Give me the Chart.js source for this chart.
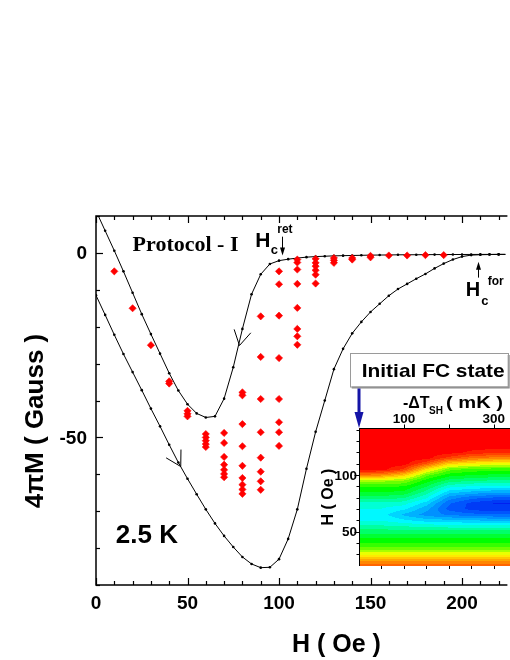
<!DOCTYPE html>
<html><head><meta charset="utf-8">
<script src="https://cdn.jsdelivr.net/npm/chart.js@4/dist/chart.umd.min.js"></script>
<style>
html,body{margin:0;padding:0;background:#fff;overflow:hidden;}
#wrap{position:relative;width:510px;height:660px;}
#main{position:absolute;left:0;top:0;width:510px;height:660px;}
#inset{position:absolute;left:300px;top:340px;width:210px;height:240px;}
</style></head><body>
<div id="wrap"><canvas id="main" width="510" height="660"></canvas><canvas id="inset" width="210" height="240"></canvas></div>
<script>
// ---------- main chart data ----------
const curveH = [0,5,10,15,20,25,30,35,40,45,50,55,60,65,70,75,80,85,90,95,100,105,110,115,120,125,130,135,140,145,150,155,160,165,170,175,180,185,190,195,200,205,210,215,220,225];
const retM = [11.4,6.0,0.6,-5.0,-10.8,-16.6,-22.0,-27.3,-32.6,-37.3,-41.0,-43.5,-44.6,-44.3,-39.5,-31.0,-20.6,-11.2,-5.8,-3.0,-2.1,-1.7,-1.4,-1.15,-1.0,-0.9,-0.8,-0.75,-0.7,-0.65,-0.6,-0.58,-0.55,-0.52,-0.5,-0.5,-0.48,-0.46,-0.45,-0.44,-0.43,-0.42,-0.41,-0.4,-0.4,-0.4];
const forM = [-11.5,-16.8,-22.2,-27.4,-32.3,-37.2,-42.2,-47.0,-52.0,-56.8,-61.2,-65.4,-69.5,-73.3,-76.7,-79.7,-82.4,-84.3,-85.3,-85.2,-83.0,-77.5,-69.5,-58.5,-48.5,-40.0,-31.5,-26.0,-21.8,-18.7,-16.0,-13.8,-11.6,-9.8,-8.4,-7.0,-5.7,-4.2,-2.9,-1.8,-1.0,-0.6,-0.5,-0.45,-0.4,-0.4];
const fcH = [10,20,30,40,40,50,50,50,
  60,60,60,60,60,
  70,70,70,70,70,70,70,
  80,80,80,80,80,80,80,80,80,
  90,90,90,90,90,90,90,90,
  100,100,100,100,100,100,100,100,
  110,110,110,110,110,110,110,110,
  120,120,120,120,120,120,
  130,130,130,140,140,150,150,160,170,180,190];
const fcM = [-5,-15,-25,-34.8,-35.4,-42.8,-43.6,-44.3,
  -49.1,-50.0,-50.9,-51.8,-52.6,
  -48.8,-51.5,-55.3,-57.4,-58.8,-59.9,-60.8,
  -37.8,-38.6,-46.4,-52.4,-57.7,-61.0,-62.8,-64.1,-65.3,
  -17.2,-28.2,-39.6,-48.6,-55.5,-59.3,-61.9,-64.2,
  -5.0,-8.5,-17.0,-28.5,-39.6,-45.9,-48.6,-52.3,
  -1.8,-2.6,-4.5,-8.4,-14.9,-20.6,-22.6,-24.9,
  -1.6,-2.7,-3.6,-4.7,-5.9,-8.3,
  -1.4,-2.0,-2.7,-1.4,-1.8,-0.8,-1.2,-0.7,-0.7,-0.6,-0.6];
const xTickLabels = [0,50,100,150,200];
const yTickLabels = [0,-50];

// ---------- inset data ----------
const insetDT = [0,50,100,150,200,250,300,350];
const insetH = [140,135,130,125,120,115,110,105,100,95,90,85,80,75,70,65,60,55,50,45,40,35,30,25,20];
const insetZ = [
 [1,1,1,1,1,1,1,1],
 [1,1,1,1,1,1,1,1],
 [1,1,1,1,1,1,1,1],
 [1,1,1,1,1,1,1,1],
 [1,1,1,1,1,0.97,0.95,0.95],
 [1,1,1,1,0.92,0.86,0.84,0.84],
 [1,1,1,0.9,0.74,0.7,0.68,0.68],
 [1,1,0.93,0.72,0.58,0.55,0.54,0.54],
 [0.85,0.83,0.75,0.58,0.5,0.48,0.47,0.47],
 [0.62,0.62,0.6,0.5,0.42,0.4,0.39,0.39],
 [0.53,0.53,0.52,0.44,0.33,0.31,0.3,0.3],
 [0.48,0.48,0.47,0.38,0.25,0.22,0.2,0.2],
 [0.42,0.42,0.4,0.32,0.17,0.12,0.1,0.1],
 [0.34,0.34,0.33,0.25,0.11,0.05,0.02,0.02],
 [0.31,0.31,0.28,0.2,0.09,0.05,0.03,0.03],
 [0.3,0.29,0.22,0.17,0.14,0.12,0.11,0.11],
 [0.31,0.31,0.28,0.25,0.24,0.23,0.22,0.22],
 [0.36,0.36,0.35,0.34,0.33,0.33,0.33,0.33],
 [0.42,0.42,0.42,0.42,0.42,0.42,0.42,0.42],
 [0.47,0.47,0.47,0.47,0.47,0.47,0.47,0.47],
 [0.52,0.52,0.52,0.52,0.52,0.52,0.52,0.52],
 [0.58,0.58,0.58,0.58,0.58,0.58,0.58,0.58],
 [0.68,0.68,0.68,0.68,0.68,0.68,0.68,0.68],
 [0.8,0.8,0.8,0.8,0.8,0.8,0.8,0.8],
 [0.88,0.88,0.88,0.88,0.88,0.88,0.88,0.88]
];
const insetTopTickLabels = [100,300];
const insetLeftTickLabels = [50,100];

const SANS = '"Liberation Sans", Arial, sans-serif';
const SERIF = '"Liberation Serif", "Times New Roman", serif';

function toXY(hs, ms){ return hs.map((h,i)=>({x:h,y:ms[i]})); }

function chevron(ctx, x, y, tipH, tipM, fromH, fromM){
  const tx = x.getPixelForValue(tipH), ty = y.getPixelForValue(tipM);
  const fx = x.getPixelForValue(fromH), fy = y.getPixelForValue(fromM);
  const ang = Math.atan2(fy-ty, fx-tx);
  const L = 17, sp = 30*Math.PI/180;
  ctx.beginPath();
  ctx.moveTo(tx + L*Math.cos(ang-sp), ty + L*Math.sin(ang-sp));
  ctx.lineTo(tx, ty);
  ctx.lineTo(tx + L*Math.cos(ang+sp), ty + L*Math.sin(ang+sp));
  ctx.stroke();
}
function vArrow(ctx, px, yFrom, yTip){
  const dir = yTip > yFrom ? 1 : -1;
  ctx.beginPath(); ctx.moveTo(px, yFrom); ctx.lineTo(px, yTip - dir*6); ctx.stroke();
  ctx.beginPath(); ctx.moveTo(px, yTip); ctx.lineTo(px-2.5, yTip - dir*8); ctx.lineTo(px+2.5, yTip - dir*8); ctx.closePath(); ctx.fill();
}

const mainDeco = {
  id:'mainDeco',
  afterDraw(chart){
    const {ctx, chartArea:a, scales:{x,y}} = chart;
    ctx.save();
    ctx.strokeStyle='#000'; ctx.fillStyle='#000';
    // axis lines
    ctx.lineWidth=1.5;
    ctx.beginPath();
    ctx.moveTo(a.right+2, a.top); ctx.lineTo(a.left, a.top); ctx.lineTo(a.left, a.bottom); ctx.lineTo(a.right+2, a.bottom);
    ctx.stroke();
    // ticks (inward)
    ctx.lineWidth=1.2;
    for(let v=0; v<=x.max; v+=10){
      const px = Math.round(x.getPixelForValue(v))+0.5;
      const len = (v%50===0)?7:4;
      ctx.beginPath();
      ctx.moveTo(px, a.top); ctx.lineTo(px, a.top+len);
      ctx.moveTo(px, a.bottom); ctx.lineTo(px, a.bottom-len);
      ctx.stroke();
    }
    for(let v=-90; v<=10; v+=10){
      const py = Math.round(y.getPixelForValue(v))+0.5;
      const len = (v%50===0)?7:4;
      ctx.beginPath(); ctx.moveTo(a.left, py); ctx.lineTo(a.left+len, py); ctx.stroke();
    }
    // tick labels
    ctx.font = 'bold 19px '+SANS;
    ctx.textAlign='center'; ctx.textBaseline='middle';
    xTickLabels.forEach(v=>ctx.fillText(String(v), x.getPixelForValue(v), a.bottom+19));
    ctx.textAlign='right';
    yTickLabels.forEach(v=>ctx.fillText(String(v), a.left-9, y.getPixelForValue(v)+1));
    // axis titles
    ctx.textAlign='center';
    ctx.font = 'bold 25px '+SANS;
    ctx.fillText('H ( Oe )', 336.5, 645);
    ctx.save();
    ctx.translate(36, 421); ctx.rotate(-Math.PI/2);
    ctx.font = 'bold 26px '+SANS;
    ctx.fillText('4\u03c0M ( Gauss )', 0, 0);
    ctx.restore();
    // annotations
    ctx.textAlign='left'; ctx.textBaseline='alphabetic';
    ctx.font = 'bold 22px '+SERIF;
    ctx.fillText('Protocol - I', x.getPixelForValue(20), y.getPixelForValue(0.43));
    ctx.font = 'bold 26px '+SANS; ctx.textBaseline='middle';
    ctx.fillText('2.5 K', x.getPixelForValue(10.8), y.getPixelForValue(-76.7));
    ctx.textBaseline='alphabetic';
    // Hc ret
    let hx = x.getPixelForValue(87), hy = y.getPixelForValue(1.7);
    ctx.font = 'bold 21px '+SANS; ctx.fillText('H', hx, hy);
    ctx.font = 'bold 13px '+SANS; ctx.fillText('c', hx+15.5, hy+7);
    ctx.font = 'bold 12px '+SANS; ctx.fillText('ret', hx+22, hy-14);
    ctx.lineWidth=1;
    vArrow(ctx, Math.round(x.getPixelForValue(101.8))+0.5, y.getPixelForValue(4.4), y.getPixelForValue(-0.7));
    // Hc for
    hx = x.getPixelForValue(202); hy = y.getPixelForValue(-11.6);
    ctx.font = 'bold 20px '+SANS; ctx.fillText('H', hx, hy);
    ctx.font = 'bold 13px '+SANS; ctx.fillText('c', hx+15.5, hy+9);
    ctx.font = 'bold 12px '+SANS; ctx.fillText('for', hx+22, hy-11);
    vArrow(ctx, Math.round(x.getPixelForValue(208.6))+0.5, y.getPixelForValue(-6.7), y.getPixelForValue(-2.4));
    // direction chevrons
    ctx.lineWidth=1;
    chevron(ctx, x, y, 78.4, -25.1, 83.2, -13.6);
    chevron(ctx, x, y, 46.3, -57.9, 42.7, -54.7);
    ctx.restore();
  }
};

new Chart(document.getElementById('main'), {
  type:'scatter',
  data:{datasets:[
    {label:'Protocol I', data:toXY(fcH, fcM), showLine:false, pointStyle:'rectRot', pointRadius:3.6, pointBackgroundColor:'#ff0000', pointBorderColor:'#ff0000', pointBorderWidth:0.6, order:0},
    {label:'return', data:toXY(curveH, retM), showLine:true, borderColor:'#000', borderWidth:1, pointRadius:1.3, pointBackgroundColor:'#000', pointBorderWidth:0, tension:0, order:1},
    {label:'forward', data:toXY(curveH, forM), showLine:true, borderColor:'#000', borderWidth:1, pointRadius:1.3, pointBackgroundColor:'#000', pointBorderWidth:0, tension:0, order:2}
  ]},
  options:{
    responsive:false, animation:false, devicePixelRatio:1,
    layout:{padding:{left:96, top:216, right:0, bottom:75}},
    plugins:{legend:{display:false}, tooltip:{enabled:false}},
    scales:{
      x:{type:'linear', min:0, max:223.7, display:false},
      y:{type:'linear', min:-90, max:10, display:false}
    }
  },
  plugins:[mainDeco]
});

// ---------- inset ----------
const stops = [
  [0.0,[0,32,240]],[0.1,[0,96,255]],[0.2,[0,170,255]],[0.3,[0,255,255]],[0.4,[0,255,128]],
  [0.5,[0,255,0]],[0.6,[128,255,0]],[0.68,[255,255,0]],[0.8,[255,160,0]],[0.9,[255,80,0]],[1.0,[255,0,0]]
];
function cmap(z){
  z = Math.max(0, Math.min(1, z));
  for(let i=1;i<stops.length;i++){
    if(z<=stops[i][0]){
      const [z0,c0]=stops[i-1],[z1,c1]=stops[i];
      const t=(z-z0)/(z1-z0);
      return [0,1,2].map(k=>Math.round(c0[k]+(c1[k]-c0[k])*t));
    }
  }
  return stops[stops.length-1][1];
}
function sampleZ(dt, h){
  let i = 0; while(i < insetDT.length-2 && dt > insetDT[i+1]) i++;
  let j = 0; while(j < insetH.length-2 && h < insetH[j+1]) j++;
  const tx = Math.max(0, Math.min(1, (dt-insetDT[i])/(insetDT[i+1]-insetDT[i])));
  const ty = Math.max(0, Math.min(1, (insetH[j]-h)/(insetH[j]-insetH[j+1])));
  const z00=insetZ[j][i], z01=insetZ[j][i+1], z10=insetZ[j+1][i], z11=insetZ[j+1][i+1];
  return (z00*(1-tx)+z01*tx)*(1-ty) + (z10*(1-tx)+z11*tx)*ty;
}
const heat = {
  id:'heat',
  beforeDatasetsDraw(chart){
    const {ctx, chartArea:a, scales:{x,y}} = chart;
    const L=Math.round(a.left), T=Math.round(a.top), W=Math.round(a.right)-L, H=Math.round(a.bottom)-T;
    const img = ctx.createImageData(W, H);
    for(let py=0; py<H; py++){
      const h = y.getValueForPixel(T+py+0.5);
      for(let px=0; px<W; px++){
        const dt = x.getValueForPixel(L+px+0.5);
        let z = sampleZ(dt, h);
        z = Math.round(z*24)/24;
        const c = cmap(z);
        const o = (py*W+px)*4;
        img.data[o]=c[0]; img.data[o+1]=c[1]; img.data[o+2]=c[2]; img.data[o+3]=255;
      }
    }
    ctx.putImageData(img, L, T);
  },
  afterDraw(chart){
    const {ctx, chartArea:a, scales:{x,y}} = chart;
    ctx.save();
    ctx.strokeStyle='#000'; ctx.fillStyle='#000'; ctx.lineWidth=1;
    const L = Math.round(a.left)+0.5, T = Math.round(a.top)+0.5, B = Math.round(a.bottom);
    ctx.beginPath(); ctx.moveTo(L, B); ctx.lineTo(L, T); ctx.lineTo(a.right, T); ctx.stroke();
    // left ticks
    for(let v=30; v<=140; v+=10){
      const py = Math.round(y.getPixelForValue(v))+0.5;
      const len = (v%50===0)?5:3;
      ctx.beginPath(); ctx.moveTo(L, py); ctx.lineTo(L-len, py); ctx.stroke();
    }
    // top ticks
    for(let v=100; v<=300; v+=100){
      const px = Math.round(x.getPixelForValue(v))+0.5;
      ctx.beginPath(); ctx.moveTo(px, T); ctx.lineTo(px, T-4); ctx.stroke();
    }
    // bottom ticks
    for(let v=50; v<=300; v+=50){
      const px = Math.round(x.getPixelForValue(v))+0.5;
      ctx.beginPath(); ctx.moveTo(px, B); ctx.lineTo(px, B+3); ctx.stroke();
    }
    // tick labels
    ctx.font='bold 13.5px '+SANS; ctx.textBaseline='alphabetic'; ctx.textAlign='center';
    insetTopTickLabels.forEach(v=>ctx.fillText(String(v), x.getPixelForValue(v), a.top-5));
    ctx.textAlign='right'; ctx.textBaseline='middle';
    insetLeftTickLabels.forEach(v=>ctx.fillText(String(v), a.left-2, y.getPixelForValue(v)+1));
    // top title
    ctx.textAlign='left'; ctx.textBaseline='alphabetic';
    const tx0 = a.left+44, tyb = a.top-20;
    ctx.font='bold 16px '+SANS; ctx.fillText('-\u0394T', tx0, tyb);
    ctx.font='bold 10px '+SANS; ctx.fillText('SH', tx0+26, tyb+6);
    ctx.font='bold 16px '+SANS;
    ctx.save(); const w1 = ctx.measureText('( mK )').width;
    ctx.translate(tx0+43, tyb); ctx.scale(57/w1, 1); ctx.fillText('( mK )', 0, 0); ctx.restore();
    // left title
    ctx.save(); ctx.translate(a.left-30, 497-340); ctx.rotate(-Math.PI/2);
    ctx.textAlign='center'; ctx.textBaseline='middle';
    ctx.font='bold 16px '+SANS; ctx.fillText('H ( Oe )', 0, 0);
    ctx.restore();
    // box "Initial FC state"
    const bx = a.left-9.3, by = a.top-75, bw = 158, bh = 33.5;
    ctx.fillStyle='#8a8a8a'; ctx.fillRect(bx+2, by+2, bw, bh);
    ctx.fillStyle='#fff'; ctx.fillRect(bx, by, bw, bh);
    ctx.strokeStyle='#9a9a9a'; ctx.lineWidth=1; ctx.strokeRect(Math.round(bx)+0.5, Math.round(by)+0.5, bw, bh);
    ctx.fillStyle='#000'; ctx.font='bold 19px '+SANS;
    ctx.save(); const w2 = ctx.measureText('Initial FC state').width;
    ctx.translate(bx+12, by+24); ctx.scale(143/w2, 1); ctx.fillText('Initial FC state', 0, 0); ctx.restore();
    // blue arrow
    const ax = x.getPixelForValue(0);
    ctx.strokeStyle='#1414a6'; ctx.fillStyle='#1414a6'; ctx.lineWidth=3;
    ctx.beginPath(); ctx.moveTo(ax, by+bh+2); ctx.lineTo(ax, a.top-14); ctx.stroke();
    ctx.beginPath(); ctx.moveTo(ax, a.top); ctx.lineTo(ax-4.5, a.top-16); ctx.lineTo(ax+4.5, a.top-16); ctx.closePath(); ctx.fill();
    ctx.restore();
  }
};
new Chart(document.getElementById('inset'), {
  type:'scatter',
  data:{datasets:[{label:'inset', data:[], showLine:false}]},
  options:{
    responsive:false, animation:false, devicePixelRatio:1,
    layout:{padding:{left:59, top:88, right:0, bottom:14}},
    plugins:{legend:{display:false}, tooltip:{enabled:false}},
    scales:{
      x:{type:'linear', min:0, max:336, display:false},
      y:{type:'linear', min:19.7, max:141.5, display:false}
    }
  },
  plugins:[heat]
});
</script>
</body></html>
